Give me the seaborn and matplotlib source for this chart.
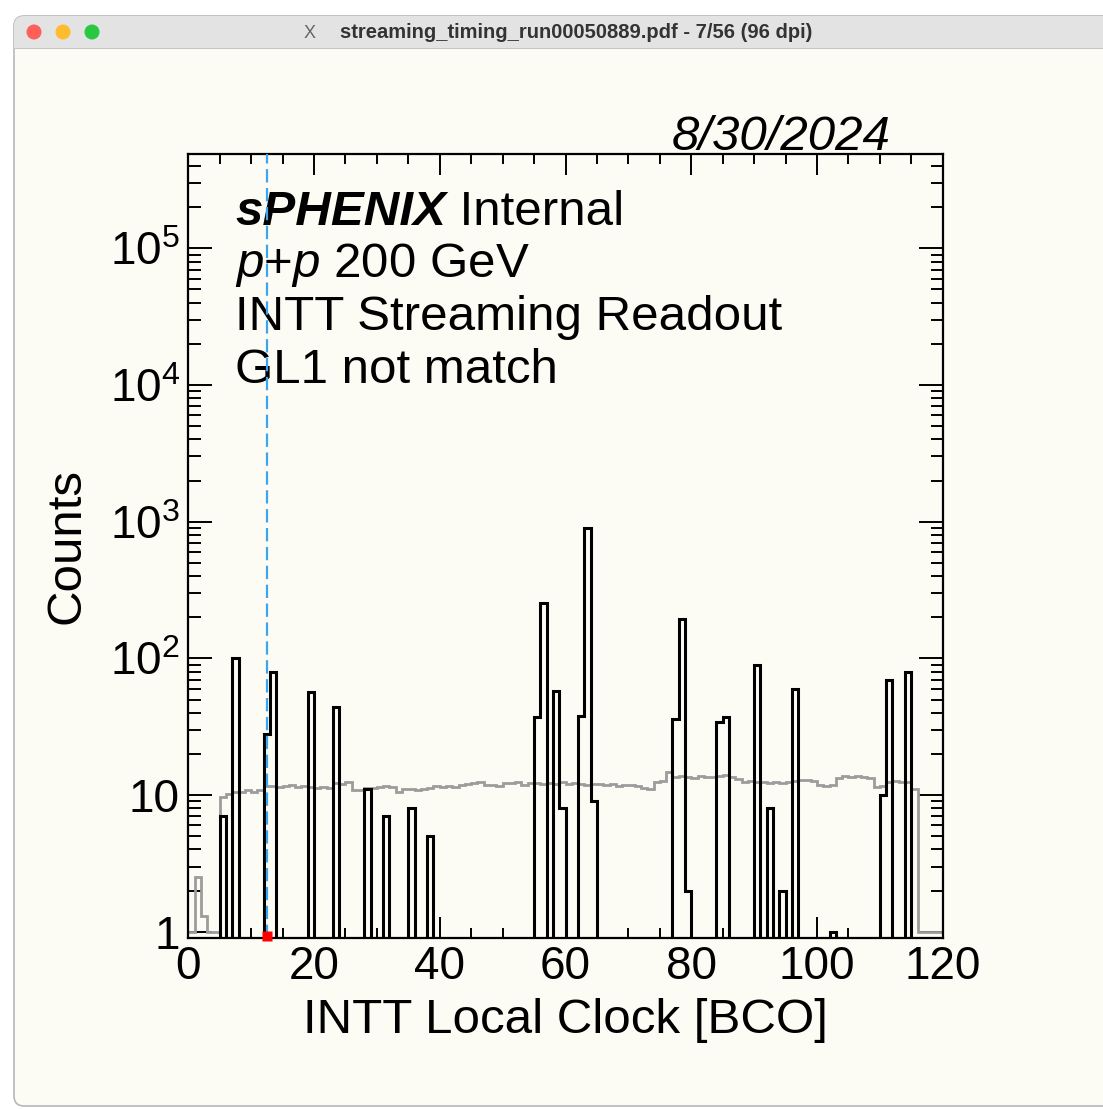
import numpy as np
import matplotlib
matplotlib.use('Agg')
import matplotlib.pyplot as plt
from matplotlib.patches import Rectangle, Circle, FancyBboxPatch
from matplotlib.transforms import IdentityTransform
from matplotlib.ticker import MultipleLocator, LogLocator, FuncFormatter, NullFormatter
import seaborn as sns

# one bin per BCO, 0..120
n_bins = 120
bco_centers = np.arange(n_bins) + 0.5

# GL1 not match (black), non-empty bins only
nomatch_bins = [5, 7, 12, 13, 19, 23, 28, 31, 35, 38,
                55, 56, 58, 59, 62, 63, 64,
                77, 78, 79, 84, 85,
                90, 92, 94, 96, 102, 110, 111, 114]
nomatch_counts = [7, 100, 28, 80, 57, 44, 11, 7, 8, 5,
                  37, 255, 58, 8, 38, 900, 9,
                  36, 193, 2, 34, 37,
                  90, 8, 2, 60, 1, 10, 69, 80]

# all hits, scaled (grey), bins 0..119
allhits_counts = [
    1, 2.5, 1.3, 1, 1, 9.6, 10.2, 10.6, 10.6, 10.8,
    10.5, 10.8, 11.6, 11.7, 11.5, 11.6, 11.8, 11.5, 11.6, 11.4,
    11.3, 11.5, 11.2, 12.2, 12.1, 12.4, 10.9, 10.9, 11.2, 11.3,
    11.5, 11.6, 11.4, 10.6, 11.0, 11.1, 10.9, 11.0, 11.3, 11.6,
    11.5, 11.7, 11.4, 11.8, 12.0, 12.2, 12.4, 11.8, 11.9, 11.7,
    12.3, 12.2, 12.4, 11.8, 12.3, 12.2, 12.0, 12.3, 12.1, 12.4,
    12.0, 12.2, 12.0, 11.9, 12.1, 12.0, 11.8, 12.0, 11.7, 11.9,
    11.8, 11.6, 11.2, 11.0, 12.4, 12.6, 14.8, 13.5, 13.7, 13.6,
    13.4, 13.7, 13.5, 13.6, 13.8, 14.0, 13.6, 13.2, 12.5, 12.6,
    12.4, 12.5, 12.3, 12.4, 12.2, 12.5, 12.6, 12.8, 12.9, 12.7,
    11.8, 11.7, 11.9, 13.4, 13.7, 13.5, 13.8, 13.6, 13.3, 11.5,
    11.6, 12.5, 12.6, 12.4, 12.5, 11.0, 1, 1, 1, 1,
]

trigger_bco = 12.5      # dashed blue line
gl1_bins = [12]         # red marker on the floor

date_text = '8/30/2024'
label_lines = ['INTT Streaming Readout', 'GL1 not match']
window_title = 'streaming_timing_run00050889.pdf - 7/56 (96 dpi)'

sns.set_style('ticks')
plt.rcParams['font.family'] = ['Liberation Sans', 'DejaVu Sans']
plt.rcParams['mathtext.fontset'] = 'custom'
plt.rcParams['mathtext.rm'] = 'Liberation Sans'
plt.rcParams['mathtext.it'] = 'Liberation Sans:italic'
plt.rcParams['mathtext.bf'] = 'Liberation Sans:bold'
for k in ['text.color', 'axes.labelcolor', 'xtick.color', 'ytick.color']:
    plt.rcParams[k] = 'black'

W, H = 1103, 1109
bg = '#fcfcf4'
fig = plt.figure(figsize=(W / 100, H / 100), dpi=100, facecolor='white')

# window chrome (pixel coords, y from top)
def px(x, y):
    return (x, H - y)

win = FancyBboxPatch(px(14, 1106), 1120, 1090, boxstyle='round,pad=0,rounding_size=10',
                     transform=IdentityTransform(), facecolor=bg, edgecolor='#b8b8b8',
                     lw=1.2, zorder=-10)
fig.add_artist(win)
bar = FancyBboxPatch(px(14, 48), 1120, 32, boxstyle='round,pad=0,rounding_size=10',
                     transform=IdentityTransform(), facecolor='#e3e3e3', edgecolor='none',
                     zorder=-9)
fig.add_artist(bar)
fig.add_artist(Rectangle(px(14, 48), 1120, 10, transform=IdentityTransform(),
                         facecolor='#e3e3e3', edgecolor='none', zorder=-9))
fig.add_artist(Rectangle(px(14, 49), 1120, 1, transform=IdentityTransform(),
                         facecolor='#c6c6c6', edgecolor='none', zorder=-8))
for cx, col in zip([34, 63, 92], ['#fe5f57', '#febc2e', '#28c840']):
    fig.add_artist(Circle(px(cx, 32), 7.5, transform=IdentityTransform(),
                          facecolor=col, edgecolor='none', zorder=-7))
fig.text(310 / W, 1 - 33 / H, 'X', fontsize=13, color='#666666', ha='center', va='center')
fig.text(576 / W, 1 - 33 / H, window_title, fontsize=14.5, weight='bold', color='#333333',
         ha='center', va='center')

ax = fig.add_axes([0.17072, 0.15392, 0.68395, 0.70721])
ax.set_facecolor(bg)

nomatch = np.zeros(n_bins)
nomatch[nomatch_bins] = nomatch_counts

sns.histplot(x=bco_centers, weights=np.array(allhits_counts), bins=n_bins, binrange=(0, n_bins),
             element='step', fill=False, color='#9c9c9c', linewidth=2.0,
             solid_joinstyle='miter', ax=ax)
sns.histplot(x=bco_centers, weights=nomatch, bins=n_bins, binrange=(0, n_bins),
             element='step', fill=False, color='black', linewidth=2.2,
             solid_joinstyle='miter', ax=ax)
ax.axvline(trigger_bco, color='#3aa6f0', lw=1.6, ls=(0, (6, 2.5)), zorder=4)
ax.plot(np.array(gl1_bins) + 0.5, [0.93] * len(gl1_bins), 's', color='red', ms=7,
        mec='none', clip_on=False, zorder=5)

ax.set_yscale('log')
ax.set_xlim(0, 120)
ax.set_ylim(0.895, 4.9e5)

ax.xaxis.set_major_locator(MultipleLocator(20))
ax.xaxis.set_minor_locator(MultipleLocator(5))
ax.yaxis.set_major_locator(LogLocator(base=10, numticks=10))
ax.yaxis.set_minor_locator(LogLocator(base=10, subs=np.arange(2, 10), numticks=20))
ax.yaxis.set_minor_formatter(NullFormatter())

def ylab(v, pos):
    n = int(round(np.log10(v)))
    if n == 0:
        return '1'
    if n == 1:
        return '10'
    return r'$\mathregular{10^{%d}}$' % n

ax.yaxis.set_major_formatter(FuncFormatter(ylab))

ax.tick_params(axis='both', which='both', direction='in', top=True, right=True,
               color='black', width=1.4)
ax.tick_params(axis='x', which='major', length=15, labelsize=33, pad=5)
ax.tick_params(axis='x', which='minor', length=7)
ax.tick_params(axis='y', which='major', length=17, labelsize=33, pad=6)
ax.tick_params(axis='y', which='minor', length=9)
for s in ax.spines.values():
    s.set_linewidth(1.6)
    s.set_color('black')

ax.set_xlabel('INTT Local Clock [BCO]', fontsize=35.5)
ax.xaxis.set_label_coords(0.5, -0.076)
ax.set_ylabel('Counts', fontsize=35.5)
ax.yaxis.set_label_coords(-0.131, 0.5)

t1 = ax.text(0.062, 0.9095, 'sPHENIX', transform=ax.transAxes, fontsize=35.5,
             weight='bold', style='italic', va='baseline')
ax.annotate(' Internal', xy=(1, 0), xycoords=t1, va='bottom', fontsize=35.5)
ax.text(0.062, 0.8428, r'$p$+$p$ 200 GeV', transform=ax.transAxes, fontsize=35.5, va='baseline')
for yy, line in zip([0.7753, 0.7078], label_lines):
    ax.text(0.062, yy, line, transform=ax.transAxes, fontsize=35.5, va='baseline')

fig.text(0.807, 0.8647, date_text, ha='right', va='baseline', fontsize=35.5, style='italic')

fig.savefig('out.png', dpi=100, facecolor='white')
